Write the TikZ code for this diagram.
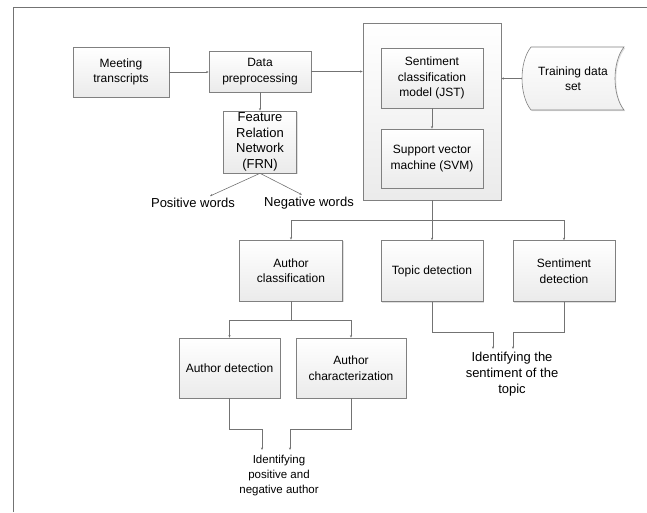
\documentclass[tikz,border=0pt]{standalone}
\usepackage{fontspec}
\setmainfont{Liberation Sans}
\usetikzlibrary{arrows.meta, shadows}

\begin{document}
\begin{tikzpicture}
        [
          x=1pt, y=-1pt,
          box/.style={draw=black!50, line width=0.6pt, top color=white, bottom color=black!8,
            drop shadow={shadow xshift=1.2pt, shadow yshift=-1.2pt, opacity=0.25},
            align=center, inner sep=1pt, font=\fontsize{12}{15.5}\selectfont},
          bigtxt/.style={align=center, inner sep=1pt, font=\fontsize{13}{16}\selectfont},
          smalltxt/.style={align=center, inner sep=1pt, font=\fontsize{11.5}{15}\selectfont},
          line/.style={draw=black!55, line width=0.6pt, -{Stealth[length=2.6pt,width=2.2pt]}},
          plain/.style={draw=black!55, line width=0.6pt}
        ]
        \useasboundingbox (0,0) rectangle (647,512);
        % frame
        \draw[black!55, line width=0.7pt] (13,512) |- (647,7);
        % input side
        \node [box, minimum width=96, minimum height=50] (meet) at (121,72) {Meeting\\transcripts};
        \node [box, minimum width=102, minimum height=41] (prep) at (260,71.5) {Data\\preprocessing};
        \node [box, minimum width=73, minimum height=62, font=\fontsize{13}{15.5}\selectfont] (frn) at (260,142) {Feature\\Relation\\Network\\(FRN)};
        \node [bigtxt] (pos) at (193,203) {Positive words};
        \node [bigtxt] (neg) at (309,203) {Negative words};
        % classifier
        \node [box, minimum width=138, minimum height=177] (big) at (432,111.5) {};
        \node [box, minimum width=102, minimum height=60] (jst) at (432,78) {Sentiment\\classification\\model (JST)};
        \node [box, minimum width=102, minimum height=59] (svm) at (432,158.5) {Support vector\\machine (SVM)};
        % training data
        \draw [black!50, line width=0.6pt, top color=white, bottom color=black!6,
          drop shadow={shadow xshift=1.2pt, shadow yshift=-1.2pt, opacity=0.25}]
        (531,47) -- (624,47) .. controls (612,62) and (612,95) .. (624,110)
        -- (531,110) .. controls (519,95) and (519,62) .. cycle;
        \node [align=center, inner sep=1pt, font=\fontsize{12}{15.5}\selectfont, minimum width=102, minimum height=63] (train) at (573,78.5) {Training data\\set};
        % outputs
        \node [box, minimum width=103, minimum height=61] (acls) at (291,270.5) {Author\\classification};
        \node [box, minimum width=102, minimum height=61] (topic) at (432,271) {Topic detection};
        \node [box, minimum width=102, minimum height=61] (sdet) at (564,271) {Sentiment\\detection};
        \node [box, minimum width=101, minimum height=60] (adet) at (229.5,368) {Author detection};
        \node [box, minimum width=110, minimum height=60] (achar) at (351,368) {Author\\characterization};
        \node [smalltxt, anchor=north] (iauth) at (279,454) {Identifying\\positive and\\negative author};
        \node [bigtxt, anchor=north] (itopic) at (512,351) {Identifying the\\sentiment of the\\topic};
        \coordinate (ia1) at (262,450);
        \coordinate (ia2) at (290,450);
        \coordinate (it1) at (493,349);
        \coordinate (it2) at (513,349);
        % edges
        \draw [line] (meet.east) -- (meet.east -| prep.west);
        \draw [line] (prep.east) -- (prep.east -| big.west);
        \draw [line] (prep) -- (frn);
        \draw [line] (frn.south) -- ([xshift=17pt,yshift=1pt]pos.north);
        \draw [line] (frn.south) -- ([xshift=-7pt,yshift=1pt]neg.north);
        \draw [line] (train.west) -- (train.west -| big.east);
        \draw [line] (jst) -- (svm);
        \draw [plain] (big.south) -- ++(0,20) coordinate (split);
        \draw [line] (split) -| (acls.north);
        \draw [line] (split) -| (sdet.north);
        \draw [line] (split) -- (topic.north);
        \draw [plain] (acls.south) -- ++(0,19) coordinate (asplit);
        \draw [line] (asplit) -| (adet.north);
        \draw [line] (asplit) -| (achar.north);
        \draw [line] (adet.south) -- ++(0,31) -| (ia1);
        \draw [line] (achar.south) -- ++(0,31) -| (ia2);
        \draw [line] (topic.south) -- ++(0,30) -| (it1);
        \draw [line] (sdet.south) -- ++(0,30) -| (it2);
\end{tikzpicture}
\end{document}
